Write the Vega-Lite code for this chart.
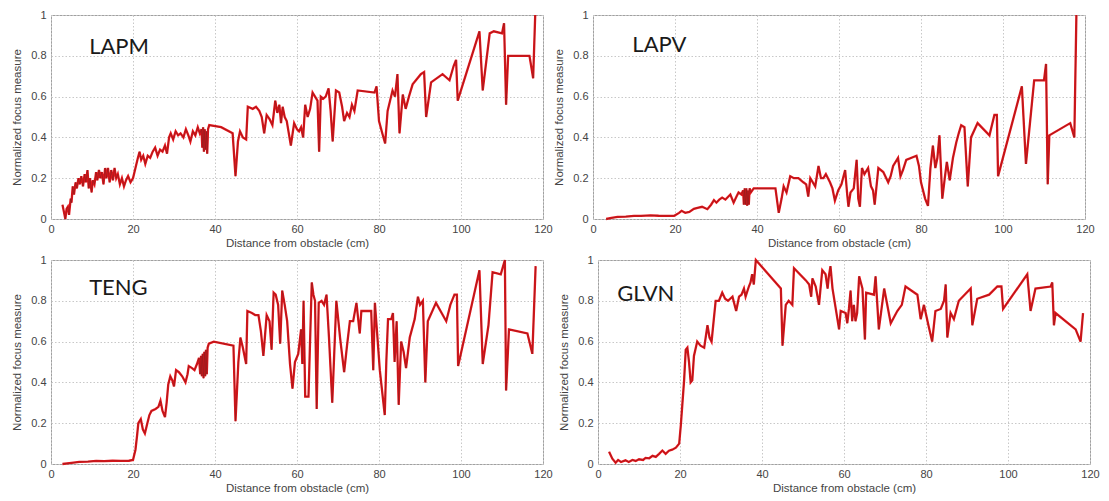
{
  "$schema": "https://vega.github.io/schema/vega-lite/v6.json",
  "background": "white",
  "padding": {"left": 10, "top": 8, "right": 5, "bottom": 5},
  "spacing": 4,
  "datasets": {
    "lapm": [
      {"x":2.8,"y":0.07},{"x":3.2,"y":0.03},{"x":3.5,"y":0.0},{"x":3.8,"y":0.05},{"x":4.1,"y":0.06},{"x":4.4,"y":0.02},{"x":4.8,"y":0.1},{"x":5.0,"y":0.08},{"x":5.3,"y":0.16},{"x":5.6,"y":0.12},{"x":6.0,"y":0.18},{"x":6.3,"y":0.15},{"x":6.7,"y":0.2},{"x":7.0,"y":0.17},{"x":7.4,"y":0.21},{"x":7.8,"y":0.16},{"x":8.2,"y":0.22},{"x":8.5,"y":0.18},{"x":8.9,"y":0.24},{"x":9.2,"y":0.15},{"x":9.5,"y":0.2},{"x":9.9,"y":0.13},{"x":10.2,"y":0.19},{"x":10.6,"y":0.17},{"x":11.0,"y":0.23},{"x":11.3,"y":0.19},{"x":11.7,"y":0.24},{"x":12.0,"y":0.2},{"x":12.4,"y":0.23},{"x":12.8,"y":0.17},{"x":13.2,"y":0.25},{"x":13.5,"y":0.2},{"x":13.9,"y":0.25},{"x":14.3,"y":0.18},{"x":14.7,"y":0.24},{"x":15.1,"y":0.19},{"x":15.5,"y":0.25},{"x":15.9,"y":0.2},{"x":16.3,"y":0.22},{"x":16.8,"y":0.17},{"x":17.3,"y":0.2},{"x":17.8,"y":0.16},{"x":18.3,"y":0.19},{"x":18.8,"y":0.21},{"x":19.4,"y":0.18},{"x":20.0,"y":0.2},{"x":20.6,"y":0.25},{"x":21.2,"y":0.3},{"x":21.6,"y":0.33},{"x":22.0,"y":0.29},{"x":22.5,"y":0.31},{"x":23.0,"y":0.27},{"x":23.6,"y":0.31},{"x":24.2,"y":0.3},{"x":24.8,"y":0.33},{"x":25.4,"y":0.35},{"x":26.0,"y":0.31},{"x":26.6,"y":0.34},{"x":27.2,"y":0.33},{"x":27.8,"y":0.36},{"x":28.3,"y":0.32},{"x":28.8,"y":0.4},{"x":29.2,"y":0.42},{"x":29.8,"y":0.39},{"x":30.4,"y":0.43},{"x":31.0,"y":0.41},{"x":31.6,"y":0.42},{"x":32.3,"y":0.4},{"x":32.9,"y":0.44},{"x":33.5,"y":0.41},{"x":34.0,"y":0.38},{"x":34.6,"y":0.43},{"x":35.2,"y":0.41},{"x":35.8,"y":0.45},{"x":36.3,"y":0.42},{"x":36.7,"y":0.44},{"x":36.9,"y":0.35},{"x":37.1,"y":0.45},{"x":37.3,"y":0.33},{"x":37.5,"y":0.44},{"x":37.7,"y":0.34},{"x":37.9,"y":0.43},{"x":38.1,"y":0.32},{"x":38.3,"y":0.44},{"x":38.6,"y":0.46},{"x":41.5,"y":0.45},{"x":44.3,"y":0.42},{"x":45.0,"y":0.21},{"x":45.6,"y":0.38},{"x":46.1,"y":0.43},{"x":46.8,"y":0.4},{"x":47.6,"y":0.39},{"x":48.0,"y":0.55},{"x":49.2,"y":0.54},{"x":50.0,"y":0.55},{"x":50.8,"y":0.53},{"x":51.4,"y":0.5},{"x":52.0,"y":0.42},{"x":52.6,"y":0.51},{"x":53.3,"y":0.49},{"x":54.0,"y":0.46},{"x":54.7,"y":0.58},{"x":55.2,"y":0.52},{"x":55.7,"y":0.56},{"x":56.1,"y":0.47},{"x":56.5,"y":0.55},{"x":57.0,"y":0.5},{"x":57.5,"y":0.48},{"x":58.0,"y":0.42},{"x":58.5,"y":0.36},{"x":59.3,"y":0.47},{"x":60.0,"y":0.44},{"x":60.5,"y":0.43},{"x":61.0,"y":0.45},{"x":61.5,"y":0.4},{"x":62.0,"y":0.56},{"x":62.6,"y":0.5},{"x":63.2,"y":0.54},{"x":63.8,"y":0.62},{"x":64.4,"y":0.6},{"x":65.0,"y":0.58},{"x":65.4,"y":0.33},{"x":65.8,"y":0.6},{"x":66.4,"y":0.59},{"x":67.0,"y":0.6},{"x":67.7,"y":0.64},{"x":68.2,"y":0.53},{"x":68.7,"y":0.38},{"x":69.5,"y":0.63},{"x":70.3,"y":0.62},{"x":71.0,"y":0.55},{"x":71.5,"y":0.48},{"x":72.2,"y":0.52},{"x":72.8,"y":0.5},{"x":73.4,"y":0.56},{"x":74.0,"y":0.53},{"x":74.8,"y":0.63},{"x":78.9,"y":0.62},{"x":79.4,"y":0.65},{"x":80.0,"y":0.48},{"x":80.8,"y":0.42},{"x":81.5,"y":0.37},{"x":82.1,"y":0.53},{"x":82.7,"y":0.58},{"x":83.3,"y":0.63},{"x":83.9,"y":0.6},{"x":84.5,"y":0.71},{"x":85.0,"y":0.42},{"x":85.8,"y":0.61},{"x":86.5,"y":0.54},{"x":87.3,"y":0.6},{"x":88.2,"y":0.66},{"x":89.0,"y":0.68},{"x":90.2,"y":0.71},{"x":91.0,"y":0.72},{"x":91.5,"y":0.5},{"x":92.7,"y":0.67},{"x":95.5,"y":0.71},{"x":97.2,"y":0.68},{"x":98.2,"y":0.75},{"x":98.8,"y":0.78},{"x":99.2,"y":0.58},{"x":104.5,"y":0.92},{"x":105.3,"y":0.63},{"x":107.0,"y":0.91},{"x":108.0,"y":0.92},{"x":110.0,"y":0.91},{"x":110.5,"y":0.96},{"x":111.0,"y":0.56},{"x":111.5,"y":0.8},{"x":116.7,"y":0.8},{"x":117.6,"y":0.69},{"x":118.1,"y":1.0}
    ],
    "lapv": [
      {"x":3.2,"y":0.0},{"x":4.5,"y":0.005},{"x":6.0,"y":0.01},{"x":8.0,"y":0.012},{"x":10.0,"y":0.015},{"x":11.7,"y":0.015},{"x":14.0,"y":0.018},{"x":16.0,"y":0.016},{"x":18.0,"y":0.015},{"x":19.8,"y":0.016},{"x":21.0,"y":0.03},{"x":21.6,"y":0.04},{"x":22.5,"y":0.03},{"x":23.5,"y":0.035},{"x":24.6,"y":0.05},{"x":25.5,"y":0.055},{"x":26.6,"y":0.06},{"x":27.9,"y":0.048},{"x":28.8,"y":0.07},{"x":29.5,"y":0.093},{"x":30.1,"y":0.08},{"x":30.8,"y":0.095},{"x":31.5,"y":0.105},{"x":32.3,"y":0.095},{"x":33.5,"y":0.12},{"x":34.3,"y":0.08},{"x":35.0,"y":0.11},{"x":35.5,"y":0.13},{"x":36.2,"y":0.12},{"x":36.6,"y":0.14},{"x":36.8,"y":0.07},{"x":37.0,"y":0.15},{"x":37.2,"y":0.07},{"x":37.4,"y":0.15},{"x":37.6,"y":0.065},{"x":37.8,"y":0.14},{"x":38.0,"y":0.07},{"x":38.2,"y":0.15},{"x":38.5,"y":0.13},{"x":39.2,"y":0.15},{"x":44.5,"y":0.15},{"x":45.3,"y":0.03},{"x":46.0,"y":0.1},{"x":46.5,"y":0.16},{"x":47.2,"y":0.13},{"x":48.1,"y":0.21},{"x":49.0,"y":0.2},{"x":50.1,"y":0.2},{"x":51.3,"y":0.18},{"x":52.0,"y":0.17},{"x":52.5,"y":0.11},{"x":53.0,"y":0.2},{"x":54.2,"y":0.16},{"x":55.0,"y":0.26},{"x":55.6,"y":0.2},{"x":56.2,"y":0.2},{"x":56.8,"y":0.22},{"x":57.8,"y":0.18},{"x":58.4,"y":0.15},{"x":59.0,"y":0.09},{"x":59.8,"y":0.14},{"x":60.6,"y":0.17},{"x":61.5,"y":0.24},{"x":62.0,"y":0.12},{"x":62.3,"y":0.06},{"x":62.8,"y":0.13},{"x":63.6,"y":0.15},{"x":64.3,"y":0.29},{"x":64.7,"y":0.1},{"x":65.1,"y":0.06},{"x":65.6,"y":0.25},{"x":66.2,"y":0.22},{"x":67.1,"y":0.25},{"x":67.8,"y":0.16},{"x":68.3,"y":0.14},{"x":68.7,"y":0.07},{"x":69.6,"y":0.25},{"x":70.8,"y":0.23},{"x":72.0,"y":0.18},{"x":72.6,"y":0.21},{"x":73.2,"y":0.26},{"x":74.4,"y":0.3},{"x":75.0,"y":0.21},{"x":75.6,"y":0.24},{"x":76.4,"y":0.29},{"x":78.9,"y":0.31},{"x":79.5,"y":0.26},{"x":80.0,"y":0.18},{"x":81.0,"y":0.1},{"x":81.7,"y":0.064},{"x":82.3,"y":0.25},{"x":82.9,"y":0.36},{"x":83.5,"y":0.25},{"x":84.0,"y":0.3},{"x":84.5,"y":0.41},{"x":85.2,"y":0.1},{"x":85.8,"y":0.2},{"x":86.3,"y":0.28},{"x":87.0,"y":0.19},{"x":87.8,"y":0.3},{"x":88.6,"y":0.375},{"x":89.2,"y":0.42},{"x":89.8,"y":0.46},{"x":90.6,"y":0.45},{"x":91.4,"y":0.16},{"x":92.2,"y":0.4},{"x":93.8,"y":0.47},{"x":96.7,"y":0.41},{"x":97.9,"y":0.51},{"x":98.5,"y":0.51},{"x":98.8,"y":0.21},{"x":104.6,"y":0.65},{"x":105.6,"y":0.27},{"x":107.6,"y":0.68},{"x":110.0,"y":0.68},{"x":110.5,"y":0.76},{"x":110.9,"y":0.17},{"x":111.3,"y":0.41},{"x":116.4,"y":0.47},{"x":117.4,"y":0.4},{"x":117.9,"y":1.0}
    ],
    "teng": [
      {"x":2.8,"y":0.0},{"x":5.0,"y":0.005},{"x":6.9,"y":0.01},{"x":9.0,"y":0.012},{"x":11.0,"y":0.015},{"x":13.0,"y":0.014},{"x":15.0,"y":0.016},{"x":17.0,"y":0.015},{"x":19.0,"y":0.016},{"x":20.0,"y":0.02},{"x":20.6,"y":0.07},{"x":21.0,"y":0.14},{"x":21.3,"y":0.2},{"x":21.9,"y":0.22},{"x":22.4,"y":0.17},{"x":22.9,"y":0.15},{"x":23.5,"y":0.2},{"x":24.0,"y":0.24},{"x":24.5,"y":0.26},{"x":25.5,"y":0.27},{"x":26.2,"y":0.28},{"x":26.7,"y":0.31},{"x":27.2,"y":0.26},{"x":27.8,"y":0.23},{"x":28.2,"y":0.3},{"x":28.6,"y":0.39},{"x":29.1,"y":0.43},{"x":29.6,"y":0.41},{"x":30.0,"y":0.38},{"x":30.5,"y":0.46},{"x":31.2,"y":0.45},{"x":32.0,"y":0.43},{"x":32.8,"y":0.4},{"x":33.3,"y":0.44},{"x":33.6,"y":0.48},{"x":34.4,"y":0.47},{"x":35.0,"y":0.46},{"x":35.6,"y":0.49},{"x":36.1,"y":0.52},{"x":36.4,"y":0.44},{"x":36.6,"y":0.53},{"x":36.8,"y":0.43},{"x":37.0,"y":0.54},{"x":37.2,"y":0.42},{"x":37.4,"y":0.55},{"x":37.6,"y":0.43},{"x":37.8,"y":0.56},{"x":38.0,"y":0.44},{"x":38.2,"y":0.57},{"x":38.5,"y":0.59},{"x":39.7,"y":0.6},{"x":44.5,"y":0.58},{"x":45.0,"y":0.21},{"x":45.7,"y":0.5},{"x":46.2,"y":0.62},{"x":46.8,"y":0.57},{"x":47.3,"y":0.52},{"x":47.6,"y":0.49},{"x":47.9,"y":0.75},{"x":49.0,"y":0.74},{"x":49.8,"y":0.73},{"x":50.6,"y":0.73},{"x":51.2,"y":0.65},{"x":51.8,"y":0.53},{"x":52.6,"y":0.73},{"x":53.3,"y":0.7},{"x":53.8,"y":0.56},{"x":54.3,"y":0.84},{"x":54.8,"y":0.83},{"x":55.4,"y":0.78},{"x":55.9,"y":0.59},{"x":56.4,"y":0.85},{"x":57.0,"y":0.78},{"x":57.6,"y":0.7},{"x":58.3,"y":0.49},{"x":58.9,"y":0.37},{"x":59.5,"y":0.5},{"x":60.3,"y":0.54},{"x":61.0,"y":0.66},{"x":61.3,"y":0.49},{"x":61.6,"y":0.8},{"x":62.0,"y":0.33},{"x":62.8,"y":0.33},{"x":63.6,"y":0.89},{"x":64.0,"y":0.83},{"x":64.4,"y":0.8},{"x":64.8,"y":0.27},{"x":65.3,"y":0.79},{"x":66.0,"y":0.8},{"x":66.6,"y":0.78},{"x":67.2,"y":0.83},{"x":67.8,"y":0.62},{"x":68.6,"y":0.3},{"x":69.6,"y":0.8},{"x":70.5,"y":0.62},{"x":71.5,"y":0.45},{"x":72.2,"y":0.58},{"x":72.9,"y":0.7},{"x":73.7,"y":0.7},{"x":74.5,"y":0.79},{"x":75.3,"y":0.64},{"x":75.7,"y":0.75},{"x":78.1,"y":0.75},{"x":78.6,"y":0.46},{"x":79.0,"y":0.79},{"x":80.2,"y":0.46},{"x":81.4,"y":0.24},{"x":81.8,"y":0.51},{"x":82.2,"y":0.71},{"x":83.0,"y":0.71},{"x":83.4,"y":0.74},{"x":83.8,"y":0.5},{"x":84.3,"y":0.7},{"x":84.8,"y":0.29},{"x":85.4,"y":0.6},{"x":86.0,"y":0.55},{"x":86.6,"y":0.47},{"x":87.5,"y":0.62},{"x":88.7,"y":0.71},{"x":89.5,"y":0.82},{"x":90.0,"y":0.78},{"x":90.7,"y":0.8},{"x":91.3,"y":0.4},{"x":91.9,"y":0.7},{"x":93.9,"y":0.79},{"x":96.4,"y":0.7},{"x":97.4,"y":0.78},{"x":98.4,"y":0.83},{"x":99.0,"y":0.83},{"x":99.3,"y":0.48},{"x":104.5,"y":0.95},{"x":105.3,"y":0.49},{"x":106.7,"y":0.68},{"x":107.7,"y":0.94},{"x":109.7,"y":0.93},{"x":110.7,"y":1.0},{"x":111.0,"y":0.36},{"x":111.7,"y":0.66},{"x":116.2,"y":0.64},{"x":117.4,"y":0.54},{"x":118.2,"y":0.97}
    ],
    "glvn": [
      {"x":2.7,"y":0.06},{"x":3.5,"y":0.026},{"x":4.3,"y":0.006},{"x":4.9,"y":0.02},{"x":5.6,"y":0.01},{"x":6.7,"y":0.018},{"x":7.5,"y":0.01},{"x":8.4,"y":0.02},{"x":9.2,"y":0.015},{"x":10.0,"y":0.023},{"x":11.0,"y":0.02},{"x":11.6,"y":0.03},{"x":12.5,"y":0.028},{"x":13.3,"y":0.04},{"x":14.1,"y":0.035},{"x":14.9,"y":0.05},{"x":15.7,"y":0.066},{"x":16.5,"y":0.05},{"x":17.3,"y":0.065},{"x":18.1,"y":0.07},{"x":19.0,"y":0.08},{"x":19.8,"y":0.1},{"x":20.2,"y":0.19},{"x":20.6,"y":0.3},{"x":21.0,"y":0.41},{"x":21.4,"y":0.56},{"x":21.8,"y":0.57},{"x":22.2,"y":0.5},{"x":22.6,"y":0.4},{"x":23.0,"y":0.41},{"x":23.4,"y":0.53},{"x":24.2,"y":0.6},{"x":25.0,"y":0.58},{"x":25.9,"y":0.57},{"x":26.7,"y":0.68},{"x":27.2,"y":0.62},{"x":27.7,"y":0.6},{"x":28.2,"y":0.7},{"x":28.7,"y":0.8},{"x":29.5,"y":0.8},{"x":30.3,"y":0.84},{"x":31.0,"y":0.81},{"x":31.7,"y":0.8},{"x":32.8,"y":0.82},{"x":33.7,"y":0.75},{"x":34.4,"y":0.82},{"x":35.0,"y":0.83},{"x":35.6,"y":0.86},{"x":36.0,"y":0.82},{"x":36.8,"y":0.87},{"x":37.2,"y":0.89},{"x":37.6,"y":0.93},{"x":38.0,"y":0.88},{"x":38.5,"y":1.0},{"x":44.6,"y":0.86},{"x":45.0,"y":0.58},{"x":45.8,"y":0.78},{"x":46.5,"y":0.8},{"x":47.4,"y":0.78},{"x":47.8,"y":0.96},{"x":50.7,"y":0.9},{"x":51.5,"y":0.88},{"x":52.0,"y":0.82},{"x":52.3,"y":0.91},{"x":53.1,"y":0.87},{"x":53.9,"y":0.78},{"x":54.7,"y":0.95},{"x":55.5,"y":0.93},{"x":56.0,"y":0.86},{"x":56.3,"y":0.92},{"x":56.7,"y":0.97},{"x":57.2,"y":0.86},{"x":58.8,"y":0.66},{"x":59.2,"y":0.75},{"x":60.4,"y":0.74},{"x":60.8,"y":0.69},{"x":61.2,"y":0.76},{"x":61.6,"y":0.85},{"x":62.0,"y":0.7},{"x":62.4,"y":0.78},{"x":62.8,"y":0.7},{"x":63.2,"y":0.74},{"x":63.7,"y":0.92},{"x":64.5,"y":0.86},{"x":65.1,"y":0.61},{"x":65.4,"y":0.84},{"x":67.3,"y":0.83},{"x":67.7,"y":0.92},{"x":68.5,"y":0.66},{"x":69.8,"y":0.86},{"x":71.4,"y":0.69},{"x":73.0,"y":0.75},{"x":74.1,"y":0.78},{"x":75.0,"y":0.87},{"x":77.9,"y":0.83},{"x":78.7,"y":0.71},{"x":79.5,"y":0.78},{"x":80.7,"y":0.67},{"x":81.5,"y":0.6},{"x":82.3,"y":0.75},{"x":83.6,"y":0.76},{"x":84.4,"y":0.8},{"x":84.8,"y":0.88},{"x":85.2,"y":0.62},{"x":86.0,"y":0.74},{"x":86.8,"y":0.71},{"x":88.0,"y":0.8},{"x":90.9,"y":0.86},{"x":91.3,"y":0.68},{"x":92.5,"y":0.81},{"x":95.4,"y":0.83},{"x":97.4,"y":0.87},{"x":98.4,"y":0.87},{"x":98.8,"y":0.76},{"x":104.7,"y":0.93},{"x":105.5,"y":0.75},{"x":106.7,"y":0.86},{"x":110.4,"y":0.87},{"x":110.8,"y":0.89},{"x":111.2,"y":0.68},{"x":111.6,"y":0.74},{"x":116.5,"y":0.66},{"x":117.7,"y":0.6},{"x":118.3,"y":0.74}
    ]
  },
  "vconcat": [
    {
      "bounds": "flush",
      "spacing": 50,
      "hconcat": [
        {
          "width": 492, "height": 204,
          "data": {"name": "lapm"},
          "encoding": {
            "x": {"field": "x", "type": "quantitative", "scale": {"domain": [0, 120], "nice": false}, "axis": {"values": [0, 20, 40, 60, 80, 100, 120], "title": "Distance from obstacle (cm)"}},
            "y": {"field": "y", "type": "quantitative", "scale": {"domain": [0, 1], "nice": false}, "axis": {"values": [0, 0.2, 0.4, 0.6, 0.8, 1], "format": "~g", "title": "Normalized focus measure"}}
          },
          "layer": [
            {"mark": {"type": "line", "color": "#e8141a", "strokeWidth": 2.3}, "encoding": {}},
            {"mark": {"type": "line", "color": "#7a2020", "strokeWidth": 0.6, "opacity": 0.9}, "encoding": {}},
            {"data": {"values": [{"x": 9.3, "y": 0.81, "name": "LAPM"}]}, "mark": {"type": "text", "align": "left", "baseline": "alphabetic", "fontSize": 22, "font": "Lato", "color": "#1a1a1a"}, "encoding": {"text": {"field": "name"}}}
          ]
        },
        {
          "width": 492, "height": 204,
          "data": {"name": "lapv"},
          "encoding": {
            "x": {"field": "x", "type": "quantitative", "scale": {"domain": [0, 120], "nice": false}, "axis": {"values": [0, 20, 40, 60, 80, 100, 120], "title": "Distance from obstacle (cm)"}},
            "y": {"field": "y", "type": "quantitative", "scale": {"domain": [0, 1], "nice": false}, "axis": {"values": [0, 0.2, 0.4, 0.6, 0.8, 1], "format": "~g", "title": "Normalized focus measure"}}
          },
          "layer": [
            {"mark": {"type": "line", "color": "#e8141a", "strokeWidth": 2.3}, "encoding": {}},
            {"mark": {"type": "line", "color": "#7a2020", "strokeWidth": 0.6, "opacity": 0.9}, "encoding": {}},
            {"data": {"values": [{"x": 9.6, "y": 0.82, "name": "LAPV"}]}, "mark": {"type": "text", "align": "left", "baseline": "alphabetic", "fontSize": 22, "font": "Lato", "color": "#1a1a1a"}, "encoding": {"text": {"field": "name"}}}
          ]
        }
      ]
    },
    {
      "bounds": "flush",
      "spacing": 55,
      "hconcat": [
        {
          "width": 492, "height": 204,
          "data": {"name": "teng"},
          "encoding": {
            "x": {"field": "x", "type": "quantitative", "scale": {"domain": [0, 120], "nice": false}, "axis": {"values": [0, 20, 40, 60, 80, 100, 120], "title": "Distance from obstacle (cm)"}},
            "y": {"field": "y", "type": "quantitative", "scale": {"domain": [0, 1], "nice": false}, "axis": {"values": [0, 0.2, 0.4, 0.6, 0.8, 1], "format": "~g", "title": "Normalized focus measure"}}
          },
          "layer": [
            {"mark": {"type": "line", "color": "#e8141a", "strokeWidth": 2.3}, "encoding": {}},
            {"mark": {"type": "line", "color": "#7a2020", "strokeWidth": 0.6, "opacity": 0.9}, "encoding": {}},
            {"data": {"values": [{"x": 9.3, "y": 0.83, "name": "TENG"}]}, "mark": {"type": "text", "align": "left", "baseline": "alphabetic", "fontSize": 22, "font": "Lato", "color": "#1a1a1a"}, "encoding": {"text": {"field": "name"}}}
          ]
        },
        {
          "width": 492, "height": 204,
          "data": {"name": "glvn"},
          "encoding": {
            "x": {"field": "x", "type": "quantitative", "scale": {"domain": [0, 120], "nice": false}, "axis": {"values": [0, 20, 40, 60, 80, 100, 120], "title": "Distance from obstacle (cm)"}},
            "y": {"field": "y", "type": "quantitative", "scale": {"domain": [0, 1], "nice": false}, "axis": {"values": [0, 0.2, 0.4, 0.6, 0.8, 1], "format": "~g", "title": "Normalized focus measure"}}
          },
          "layer": [
            {"mark": {"type": "line", "color": "#e8141a", "strokeWidth": 2.3}, "encoding": {}},
            {"mark": {"type": "line", "color": "#7a2020", "strokeWidth": 0.6, "opacity": 0.9}, "encoding": {}},
            {"data": {"values": [{"x": 4.7, "y": 0.8, "name": "GLVN"}]}, "mark": {"type": "text", "align": "left", "baseline": "alphabetic", "fontSize": 22, "font": "Lato", "color": "#1a1a1a"}, "encoding": {"text": {"field": "name"}}}
          ]
        }
      ]
    }
  ],
  "config": {
    "view": {"stroke": "#a0a0a0", "strokeWidth": 1},
    "axis": {
      "grid": true, "gridColor": "#c8c8c8", "gridDash": [1.5, 2], "gridWidth": 1,
      "domain": false, "ticks": false,
      "labelFont": "Liberation Sans", "labelFontSize": 11, "labelColor": "#444444",
      "titleFont": "Liberation Sans", "titleFontSize": 11.5, "titleFontWeight": "normal", "titleColor": "#444444"
    },
    "axisX": {"labelPadding": 4, "titlePadding": 3, "labelFlush": false},
    "axisY": {"labelPadding": 5, "titlePadding": 5, "minExtent": 24, "maxExtent": 24}
  }
}
